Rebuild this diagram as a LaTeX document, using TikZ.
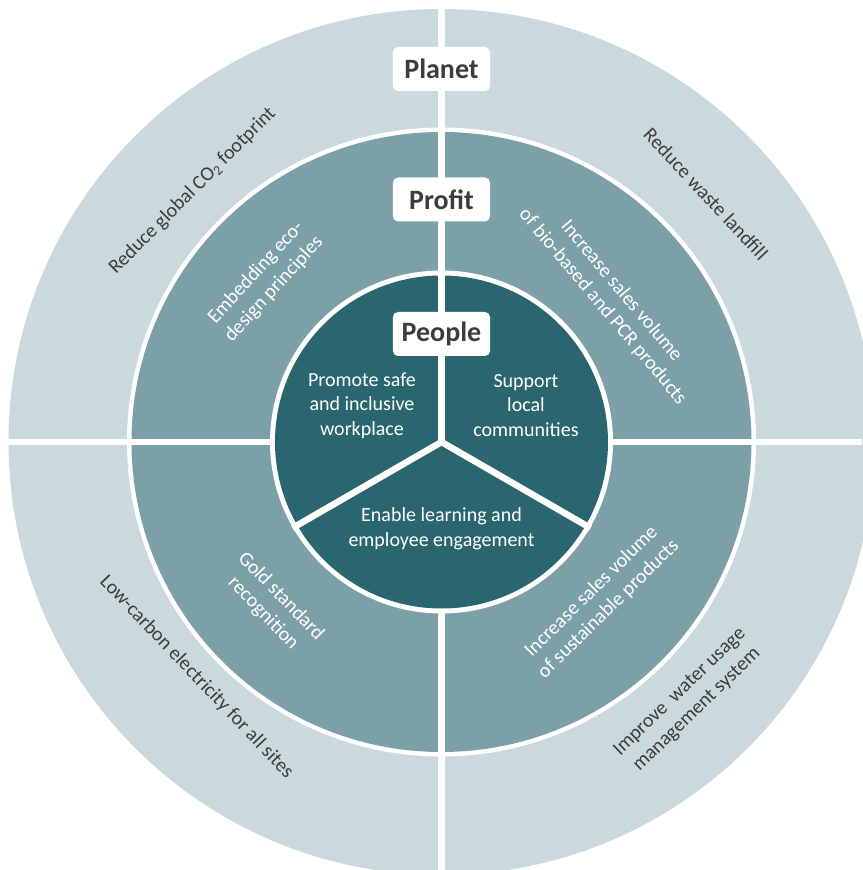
\documentclass[tikz,border=0pt]{standalone}
\usepackage{fontspec}
\setmainfont{Carlito}
\definecolor{outerc}{HTML}{CADADC}
\definecolor{midc}{HTML}{7BA0A7}
\definecolor{innerc}{HTML}{29666F}
\definecolor{darktxt}{HTML}{3D3D3D}
\tikzset{
  gap/.style={white, line width=6.5pt},
  pillar/.style={fill=white, rounded corners=5pt, minimum width=97pt, minimum height=44pt, inner sep=0pt, text=darktxt, font=\fontsize{28}{32}\selectfont\bfseries},
  ringtxt/.style={align=center, inner sep=0pt, font=\fontsize{20}{24.5}\selectfont},
  outertxt/.style={ringtxt, text=darktxt},
  midtxt/.style={ringtxt, text=white},
  innertxt/.style={ringtxt, text=white}
}
\begin{document}
\begin{tikzpicture}[x=1pt,y=1pt]
\useasboundingbox (-441.5,-428) rectangle (420.5,442);
\coordinate (c) at (0,0);
\fill[outerc] (c) circle (433);
\fill[white] (c) circle (314.5);
\fill[midc] (c) circle (310);
\fill[white] (c) circle (171.5);
\draw[gap] (0,442) -- (0,-428);
\draw[gap] (-441.5,0) -- (420.5,0);
\fill[innerc] (c) circle (166.5);
\draw[gap] (c) -- (90:172);
\draw[gap] (c) -- (210:172);
\draw[gap] (c) -- (330:172);

\node[pillar] (planet) at (0,373) {Planet};
\node[pillar] (profit) at (0,242.5) {Profit};
\node[pillar] (people) at (0,108) {People};

\node[innertxt] (promote) at (-79.5,36.5) {Promote safe\\and inclusive\\workplace};
\node[innertxt] (support) at (84.5,36.5) {Support\\local\\communities};
\node[innertxt] (enable) at (0,-87) {Enable learning and\\employee engagement};

\node[midtxt, rotate=47.5] (eco) at (-176.5,161) {Embedding eco-\\design principles};
\node[midtxt, rotate=-50] (bio) at (170.5,143) {Increase sales volume\\of bio-based and PCR products};
\node[midtxt, rotate=-46] (gold) at (-169.5,-163) {Gold standard\\recognition};
\node[midtxt, rotate=44.5] (sust) at (158.5,-158.5) {Increase sales volume\\of sustainable products};

\node[outertxt, rotate=45] (co2) at (-249,251) {Reduce global CO\textsubscript{2} footprint};
\node[outertxt, rotate=-47] (waste) at (264.5,248) {Reduce waste landfill};
\node[outertxt, rotate=-46.5] (lowc) at (-245,-235) {Low-carbon electricity for all sites};
\node[outertxt, rotate=44] (water) at (247,-259) {Improve\ \ water usage\\management system};
\end{tikzpicture}
\end{document}
